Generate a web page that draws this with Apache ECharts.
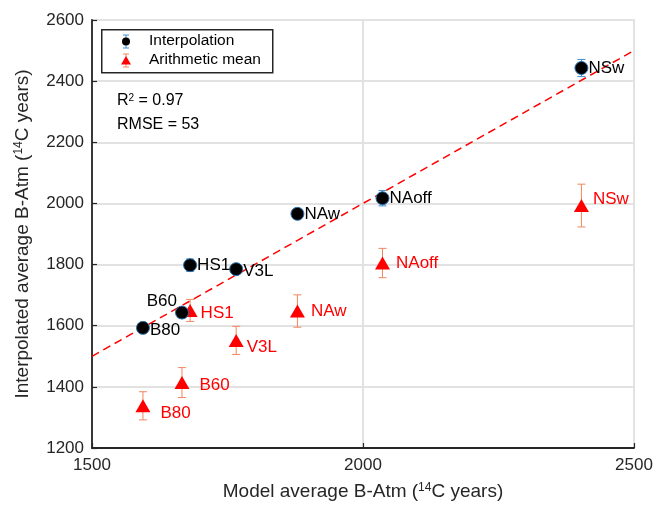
<!DOCTYPE html>
<html>
<head>
<meta charset="utf-8">
<script src="https://cdn.jsdelivr.net/npm/echarts@6/dist/echarts.min.js"></script>
<style>
html,body{margin:0;padding:0;background:#fff;}
#chart{width:656px;height:506px;}
</style>
</head>
<body>
<div id="chart"></div>
<script>
// ---- data ----
const names      = ['NSw', 'NAoff', 'NAw', 'HS1', 'V3L', 'B60', 'B80'];
const modelX     = [2403, 2036, 1879, 1681, 1766, 1666, 1594];
const interpY    = [2443, 2017, 1966, 1798, 1785, 1643, 1593];
const interpErr  = [28, 25, 12, 20, 15, 12, 10];
const meanY      = [1993, 1805, 1648, 1650, 1552, 1414, 1338];
const meanErr    = [70, 48, 53, 36, 46, 49, 46];
const oneToOne   = [[1500, 1500], [2500, 2500]];
const xTicks     = [1500, 2000, 2500];
const yTicks     = [1200, 1400, 1600, 1800, 2000, 2200, 2400, 2600];
const statsText  = ['R', '2', ' = 0.97', 'RMSE = 53'];

// ---- label styling (presentation only) ----
const blackLabelStyle = {
  NSw:   {position: 'right', distance: 0, offset: [0, 0]},
  NAoff: {position: 'right', distance: 0, offset: [0, 0]},
  NAw:   {position: 'right', distance: 0, offset: [0, 0]},
  HS1:   {position: 'right', distance: 0, offset: [0, 0]},
  V3L:   {position: 'right', distance: 0, offset: [0, 2]},
  B60:   {position: 'left',  distance: 0, offset: [2, -11]},
  B80:   {position: 'right', distance: 0, offset: [0, 2]}
};
const redLabelStyle = {
  NSw:   {distance: 4, offset: [0, -6]},
  NAoff: {distance: 6, offset: [0, 0]},
  NAw:   {distance: 6, offset: [0, 0]},
  HS1:   {distance: 3, offset: [0, 3]},
  V3L:   {distance: 3, offset: [0, 7]},
  B60:   {distance: 10, offset: [0, 3]},
  B80:   {distance: 10, offset: [0, 8]}
};

const FONT = '"Liberation Sans", Arial, Helvetica, sans-serif';
const TXT = '#262626';
const BLUE = '#3d8fd1';
const SALMON = '#f2865f';

function errData(ys, es) {
  return names.map((n, i) => [modelX[i], ys[i], es[i]]);
}
function errRender(color) {
  return function (params, api) {
    const x = api.value(0), y = api.value(1), e = api.value(2);
    const top = api.coord([x, y + e]);
    const bot = api.coord([x, y - e]);
    const w = 4;
    const st = {stroke: color, lineWidth: 1};
    return {
      type: 'group',
      children: [
        {type: 'line', shape: {x1: top[0], y1: top[1], x2: bot[0], y2: bot[1]}, style: st},
        {type: 'line', shape: {x1: top[0] - w, y1: top[1], x2: top[0] + w, y2: top[1]}, style: st},
        {type: 'line', shape: {x1: bot[0] - w, y1: bot[1], x2: bot[0] + w, y2: bot[1]}, style: st}
      ]
    };
  };
}

const chart = echarts.init(document.getElementById('chart'), null, {renderer: 'canvas'});

const axisCommon = {
  axisLine: {show: true, lineStyle: {color: TXT, width: 1.8}},
  axisTick: {show: true, inside: true, length: 5, lineStyle: {color: TXT, width: 1.2}},
  axisLabel: {color: TXT, fontSize: 17, fontFamily: FONT, formatter: v => String(v)},
  splitLine: {show: true, lineStyle: {color: '#e2e2e2', width: 2}},
  nameTextStyle: {
    color: TXT, fontSize: 19, fontFamily: FONT,
    rich: {sup: {fontSize: 12, fontFamily: FONT, color: TXT, verticalAlign: 'top', padding: [0, 0, 7, 0]}}
  }
};

const option = {
  backgroundColor: '#fff',
  animation: false,
  textStyle: {fontFamily: FONT},
  grid: {left: 92, right: 22, top: 20, bottom: 56, show: true, borderColor: '#e2e2e2', borderWidth: 2, backgroundColor: 'transparent'},
  xAxis: Object.assign({}, axisCommon, {
    type: 'value', min: xTicks[0], max: xTicks[xTicks.length - 1], interval: xTicks[1] - xTicks[0],
    name: 'Model average B-Atm ({sup|14}C years)', nameLocation: 'middle', nameGap: 34,
    axisLabel: Object.assign({}, axisCommon.axisLabel, {margin: 9})
  }),
  yAxis: Object.assign({}, axisCommon, {
    type: 'value', min: yTicks[0], max: yTicks[yTicks.length - 1], interval: yTicks[1] - yTicks[0],
    name: 'Interpolated average B-Atm ({sup|14}C years)', nameLocation: 'middle', nameGap: 60,
    axisLabel: Object.assign({}, axisCommon.axisLabel, {margin: 8})
  }),
  series: [
    {
      name: '1:1', type: 'line', data: oneToOne, showSymbol: false, silent: true, z: 3,
      lineStyle: {color: '#ff0000', width: 1.5, type: [8, 5]}
    },
    {
      name: 'Arithmetic mean error', type: 'custom', data: errData(meanY, meanErr),
      renderItem: errRender(SALMON), z: 4, encode: {x: 0, y: 1}
    },
    {
      name: 'Arithmetic mean', type: 'scatter', symbol: 'triangle', symbolSize: [15, 13], z: 5,
      itemStyle: {color: '#ff0000', opacity: 1},
      label: {show: true, color: '#ff0000', fontSize: 17, fontFamily: FONT, formatter: '{b}', position: 'right'},
      data: names.map((n, i) => ({
        name: n, value: [modelX[i], meanY[i]],
        label: Object.assign({position: 'right'}, redLabelStyle[n])
      }))
    },
    {
      name: 'Interpolation error', type: 'custom', data: errData(interpY, interpErr),
      renderItem: errRender(BLUE), z: 6, encode: {x: 0, y: 1}
    },
    {
      name: 'Interpolation', type: 'scatter', symbol: 'circle', symbolSize: 13, z: 7,
      itemStyle: {color: '#000', borderColor: '#2d6fae', borderWidth: 1, opacity: 1},
      label: {show: true, color: '#000', fontSize: 17, fontFamily: FONT, formatter: '{b}'},
      data: names.map((n, i) => ({
        name: n, value: [modelX[i], interpY[i]],
        label: blackLabelStyle[n]
      }))
    }
  ],
  graphic: [
    // legend box
    {type: 'rect', left: 101, top: 29, z: 100, shape: {width: 171, height: 43},
      style: {fill: '#fff', stroke: '#262626', lineWidth: 1.5}},
    // interpolation icon
    {type: 'line', z: 101, shape: {x1: 126, y1: 35, x2: 126, y2: 48}, style: {stroke: BLUE, lineWidth: 1}},
    {type: 'line', z: 101, shape: {x1: 123, y1: 35, x2: 129, y2: 35}, style: {stroke: BLUE, lineWidth: 1}},
    {type: 'line', z: 101, shape: {x1: 123, y1: 48, x2: 129, y2: 48}, style: {stroke: BLUE, lineWidth: 1}},
    {type: 'circle', z: 102, shape: {cx: 126, cy: 41.5, r: 4}, style: {fill: '#000'}},
    {type: 'text', z: 102, left: 149, top: 33, style: {text: 'Interpolation', font: '15.5px ' + FONT, fill: '#000'}},
    // arithmetic mean icon
    {type: 'line', z: 101, shape: {x1: 126, y1: 54, x2: 126, y2: 67}, style: {stroke: SALMON, lineWidth: 1}},
    {type: 'line', z: 101, shape: {x1: 123, y1: 54, x2: 129, y2: 54}, style: {stroke: SALMON, lineWidth: 1}},
    {type: 'line', z: 101, shape: {x1: 123, y1: 67, x2: 129, y2: 67}, style: {stroke: SALMON, lineWidth: 1}},
    {type: 'polygon', z: 102, shape: {points: [[126, 56], [131, 64.5], [121, 64.5]]}, style: {fill: '#ff0000'}},
    {type: 'text', z: 102, left: 149, top: 52, style: {text: 'Arithmetic mean', font: '15.5px ' + FONT, fill: '#000'}},
    // stats
    {type: 'text', z: 102, left: 117, top: 93, style: {
      text: '{a|' + statsText[0] + '}{s|' + statsText[1] + '}{a|' + statsText[2] + '}',
      rich: {a: {font: '16px ' + FONT, fill: '#000'}, s: {font: '10px ' + FONT, fill: '#000', verticalAlign: 'top', padding: [0, 0, 6, 0]}}
    }},
    {type: 'text', z: 102, left: 117, top: 117, style: {text: statsText[3], font: '16px ' + FONT, fill: '#000'}}
  ]
};

chart.setOption(option);
</script>
</body>
</html>
